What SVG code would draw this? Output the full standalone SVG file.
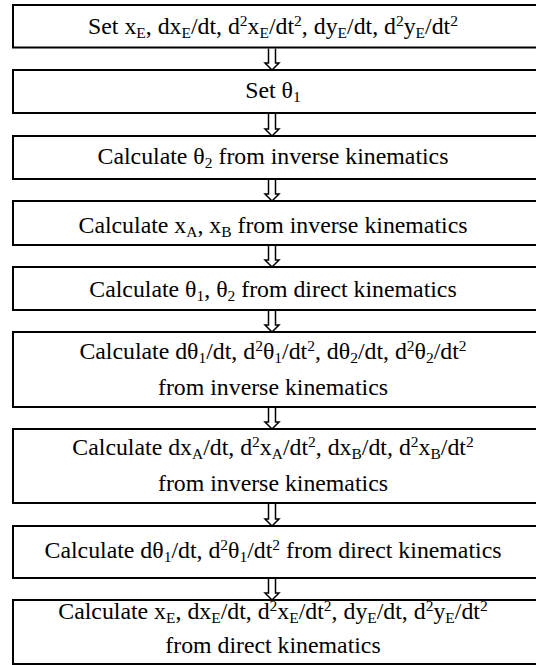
<svg xmlns="http://www.w3.org/2000/svg" width="536" height="665" viewBox="0 0 536 665">
<style>
.box{fill:#fff;stroke:#000;stroke-width:2}
.t{font-family:'Liberation Serif','Times New Roman',serif;font-size:23.8px;fill:#000;text-anchor:middle}
.s{font-size:15.5px}
.arr{fill:#fff;stroke:#000;stroke-width:1.5;stroke-linejoin:miter}
</style>
<rect width="536" height="665" fill="#fff"/>
<g id="connectors">
<path class="arr" d="M268.5,48.5V63H265L272,70L279,63H275.5V48.5"/>
<path class="arr" d="M268.5,114V129H265L272,136L279,129H275.5V114"/>
<path class="arr" d="M268.5,180V194H265L272,201L279,194H275.5V180"/>
<path class="arr" d="M268.5,246V260H265L272,267L279,260H275.5V246"/>
<path class="arr" d="M268.5,311V325H265L272,332L279,325H275.5V311"/>
<path class="arr" d="M268.5,408V422H265L272,429L279,422H275.5V408"/>
<path class="arr" d="M268.5,504V519H265L272,526L279,519H275.5V504"/>
<path class="arr" d="M268.5,579V593H265L272,600L279,593H275.5V579"/>
</g>
<g id="n1">
<rect class="box" x="13" y="5" width="526" height="42.5"/>
<text class="t" x="273" y="34">Set x<tspan class="s" dy="4">E</tspan><tspan dy="-4">, dx</tspan><tspan class="s" dy="4">E</tspan><tspan dy="-4">/dt, d</tspan><tspan class="s" dy="-8">2</tspan><tspan dy="8">x</tspan><tspan class="s" dy="4">E</tspan><tspan dy="-4">/dt</tspan><tspan class="s" dy="-8">2</tspan><tspan dy="8">, dy</tspan><tspan class="s" dy="4">E</tspan><tspan dy="-4">/dt, d</tspan><tspan class="s" dy="-8">2</tspan><tspan dy="8">y</tspan><tspan class="s" dy="4">E</tspan><tspan dy="-4">/dt</tspan><tspan class="s" dy="-8">2</tspan></text>
</g>
<g id="n2">
<rect class="box" x="13" y="70" width="526" height="43"/>
<text class="t" x="273" y="98">Set θ<tspan class="s" dy="4">1</tspan></text>
</g>
<g id="n3">
<rect class="box" x="13" y="136" width="526" height="43"/>
<text class="t" x="273" y="164">Calculate θ<tspan class="s" dy="4">2</tspan><tspan dy="-4"> from inverse kinematics</tspan></text>
</g>
<g id="n4">
<rect class="box" x="13" y="201" width="526" height="44"/>
<text class="t" x="273" y="233">Calculate x<tspan class="s" dy="4">A</tspan><tspan dy="-4">, x</tspan><tspan class="s" dy="4">B</tspan><tspan dy="-4"> from inverse kinematics</tspan></text>
</g>
<g id="n5">
<rect class="box" x="13" y="267" width="526" height="43"/>
<text class="t" x="273" y="297">Calculate θ<tspan class="s" dy="4">1</tspan><tspan dy="-4">, θ</tspan><tspan class="s" dy="4">2</tspan><tspan dy="-4"> from direct kinematics</tspan></text>
</g>
<g id="n6">
<rect class="box" x="13" y="332" width="526" height="75"/>
<text class="t" x="273" y="359">Calculate dθ<tspan class="s" dy="4">1</tspan><tspan dy="-4">/dt, d</tspan><tspan class="s" dy="-8">2</tspan><tspan dy="8">θ</tspan><tspan class="s" dy="4">1</tspan><tspan dy="-4">/dt</tspan><tspan class="s" dy="-8">2</tspan><tspan dy="8">, dθ</tspan><tspan class="s" dy="4">2</tspan><tspan dy="-4">/dt, d</tspan><tspan class="s" dy="-8">2</tspan><tspan dy="8">θ</tspan><tspan class="s" dy="4">2</tspan><tspan dy="-4">/dt</tspan><tspan class="s" dy="-8">2</tspan></text>
<text class="t" x="273" y="395">from inverse kinematics</text>
</g>
<g id="n7">
<rect class="box" x="13" y="429" width="526" height="74"/>
<text class="t" x="273" y="455">Calculate dx<tspan class="s" dy="4">A</tspan><tspan dy="-4">/dt, d</tspan><tspan class="s" dy="-8">2</tspan><tspan dy="8">x</tspan><tspan class="s" dy="4">A</tspan><tspan dy="-4">/dt</tspan><tspan class="s" dy="-8">2</tspan><tspan dy="8">, dx</tspan><tspan class="s" dy="4">B</tspan><tspan dy="-4">/dt, d</tspan><tspan class="s" dy="-8">2</tspan><tspan dy="8">x</tspan><tspan class="s" dy="4">B</tspan><tspan dy="-4">/dt</tspan><tspan class="s" dy="-8">2</tspan></text>
<text class="t" x="273" y="491">from inverse kinematics</text>
</g>
<g id="n8">
<rect class="box" x="13" y="526" width="526" height="52"/>
<text class="t" x="273" y="558">Calculate dθ<tspan class="s" dy="4">1</tspan><tspan dy="-4">/dt, d</tspan><tspan class="s" dy="-8">2</tspan><tspan dy="8">θ</tspan><tspan class="s" dy="4">1</tspan><tspan dy="-4">/dt</tspan><tspan class="s" dy="-8">2</tspan><tspan dy="8"> from direct kinematics</tspan></text>
</g>
<g id="n9">
<rect class="box" x="13" y="600" width="526" height="64"/>
<text class="t" x="273" y="619">Calculate x<tspan class="s" dy="4">E</tspan><tspan dy="-4">, dx</tspan><tspan class="s" dy="4">E</tspan><tspan dy="-4">/dt, d</tspan><tspan class="s" dy="-8">2</tspan><tspan dy="8">x</tspan><tspan class="s" dy="4">E</tspan><tspan dy="-4">/dt</tspan><tspan class="s" dy="-8">2</tspan><tspan dy="8">, dy</tspan><tspan class="s" dy="4">E</tspan><tspan dy="-4">/dt, d</tspan><tspan class="s" dy="-8">2</tspan><tspan dy="8">y</tspan><tspan class="s" dy="4">E</tspan><tspan dy="-4">/dt</tspan><tspan class="s" dy="-8">2</tspan></text>
<text class="t" x="273" y="653">from direct kinematics</text>
</g>
</svg>
